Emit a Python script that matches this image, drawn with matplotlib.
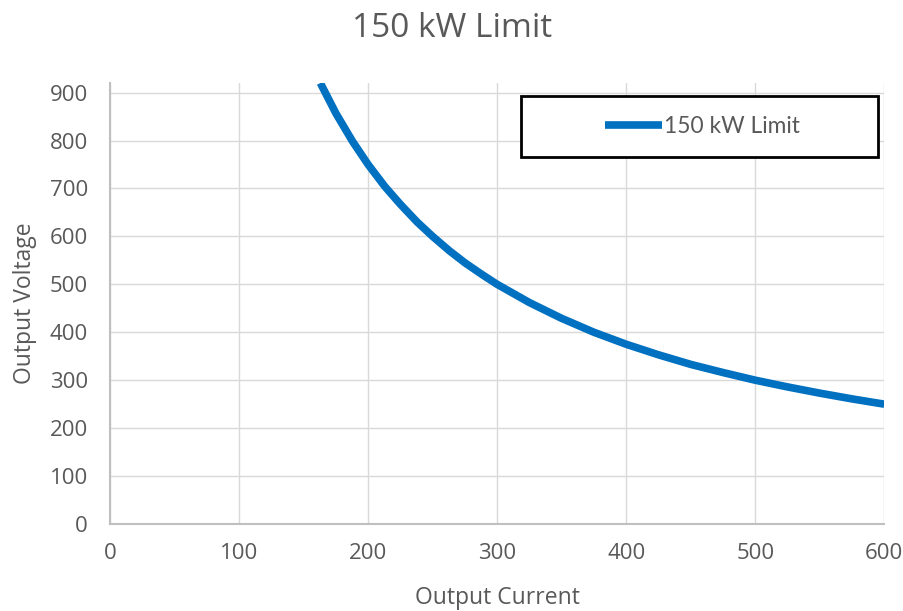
import matplotlib.pyplot as plt
from matplotlib.patches import Rectangle

# values
current = [163, 175, 188, 200, 213, 225, 238, 250, 263, 275, 288, 300, 325, 350,
           375, 400, 425, 450, 475, 500, 525, 550, 575, 600]
voltage = [920, 857, 798, 750, 704, 667, 630, 600, 570, 545, 521, 500, 462, 429,
           400, 375, 353, 333, 316, 300, 286, 273, 261, 250]
series_name = "150 kW Limit"
x_ticks = [0, 100, 200, 300, 400, 500, 600]
y_ticks = [0, 100, 200, 300, 400, 500, 600, 700, 800, 900]

grey = "#595959"
plt.rcParams['font.family'] = ['Open Sans', 'DejaVu Sans']

fig = plt.figure(figsize=(9.04, 6.11), dpi=100)
ax = fig.add_axes([0.1217, 0.1424, 0.8565, 0.7217])

line, = ax.plot(current, voltage, color="#0070C0", lw=5.5, solid_capstyle="butt",
                label=series_name)

ax.set_xlim(0, 600)
ax.set_ylim(0, 920)
ax.set_xticks(x_ticks)
ax.set_yticks(y_ticks)
ax.grid(True, color="#d9d9d9", lw=1)
ax.set_axisbelow(True)
for s in ["top", "right"]:
    ax.spines[s].set_visible(False)
for s in ["left", "bottom"]:
    ax.spines[s].set_color("#bfbfbf")
    ax.spines[s].set_linewidth(1.5)
ax.tick_params(length=0, labelsize=16, colors=grey)
ax.tick_params(axis="x", pad=14)
ax.tick_params(axis="y", pad=16)

# axis titles centred on the plot area, chart title centred on the figure
fig.text(0.55, 0.021, "Output Current", fontsize=16.5, color=grey, ha="center", va="center")
fig.text(0.028, 0.503, "Output Voltage", fontsize=16.5, color=grey, ha="center", va="center",
         rotation=90)
fig.text(0.5, 0.954, "150 kW Limit", fontsize=24, color=grey, ha="center", va="center")

# legend box
fig.patches.append(Rectangle((0.5763, 0.743), 0.395, 0.0998, transform=fig.transFigure,
                             fill=True, facecolor="white", edgecolor="black", lw=2, zorder=5))
leg = fig.legend(handles=[line], loc="center", bbox_to_anchor=(0.777, 0.793),
                 frameon=False, handlelength=2.5, handletextpad=0.1,
                 prop={'family': ['Lato', 'DejaVu Sans'], 'size': 16.4})
leg.set_zorder(6)
for t in leg.get_texts():
    t.set_color(grey)

fig.savefig("out.png", dpi=100)
